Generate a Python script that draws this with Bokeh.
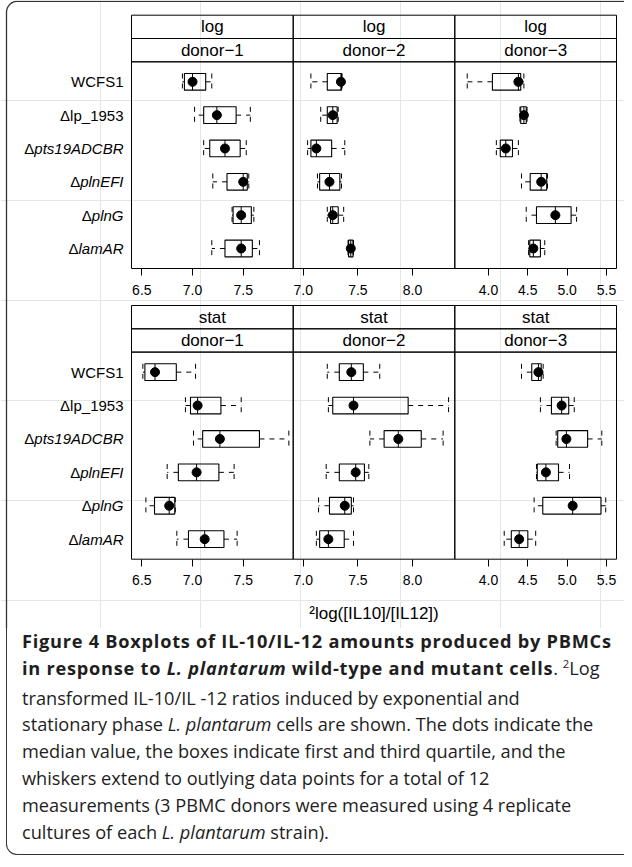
import numpy as np
from bokeh.plotting import figure
from bokeh.models import Range1d, LinearAxis, FixedTicker, PrintfTickFormatter, Div
from bokeh.layouts import column
from bokeh.embed import file_html
from bokeh.resources import INLINE
from bokeh.core.properties import value

# ---------------- data ----------------
phases = ["log", "stat"]
donors = ["donor−1", "donor−2", "donor−3"]
strains = ["WCFS1", "Δlp_1953", "Δpts19ADCBR", "ΔplnEFI", "ΔplnG", "ΔlamAR"]
strain_italic = [False, False, True, True, True, True]

# each row: (lower whisker, Q1, median, Q3, upper whisker), strains in order above
log_donor1 = [(6.90, 6.92, 7.00, 7.13, 7.19), (7.02, 7.11, 7.24, 7.43, 7.57),
              (7.11, 7.17, 7.32, 7.47, 7.53), (7.20, 7.34, 7.50, 7.54, 7.555),
              (7.39, 7.40, 7.48, 7.58, 7.605), (7.19, 7.32, 7.48, 7.59, 7.66)]
log_donor2 = [(7.07, 7.22, 7.345, 7.35, 7.355), (7.16, 7.22, 7.27, 7.31, 7.32),
              (7.04, 7.07, 7.12, 7.26, 7.38), (7.13, 7.15, 7.24, 7.335, 7.35),
              (7.22, 7.25, 7.27, 7.32, 7.37), (7.41, 7.415, 7.435, 7.455, 7.46)]
log_donor3 = [(3.73, 4.05, 4.38, 4.41, 4.45), (4.40, 4.41, 4.45, 4.48, 4.49),
              (4.10, 4.15, 4.22, 4.305, 4.38), (4.42, 4.53, 4.67, 4.74, 4.75),
              (4.48, 4.61, 4.85, 5.05, 5.12), (4.51, 4.525, 4.57, 4.66, 4.715)]
stat_donor1 = [(6.51, 6.53, 6.63, 6.84, 7.03), (6.93, 6.98, 7.05, 7.28, 7.48),
               (7.01, 7.10, 7.27, 7.66, 7.95), (6.75, 6.86, 7.04, 7.26, 7.41),
               (6.54, 6.625, 6.77, 6.825, 6.83), (6.845, 6.96, 7.12, 7.31, 7.44)]
stat_donor2 = [(7.22, 7.33, 7.44, 7.55, 7.70), (7.23, 7.27, 7.46, 7.96, 8.33),
               (7.61, 7.74, 7.87, 8.08, 8.28), (7.21, 7.33, 7.48, 7.56, 7.60),
               (7.14, 7.24, 7.38, 7.44, 7.46), (7.12, 7.15, 7.23, 7.375, 7.46)]
stat_donor3 = [(4.42, 4.55, 4.635, 4.67, 4.695), (4.66, 4.80, 4.93, 5.02, 5.09),
               (4.86, 4.88, 4.99, 5.26, 5.44), (4.61, 4.62, 4.73, 4.89, 5.03),
               (4.58, 4.69, 5.07, 5.43, 5.49), (4.20, 4.29, 4.39, 4.50, 4.60)]

panels = [[log_donor1, log_donor2, log_donor3],
          [stat_donor1, stat_donor2, stat_donor3]]

col_ticks = [[6.5, 7.0, 7.5], [7.0, 7.5, 8.0], [4.0, 4.5, 5.0, 5.5]]
col_limits = [(6.398, 7.993), (6.908, 8.387), (3.572, 5.627)]
x_label = "²log([IL10]/[IL12])"

# ---------------- layout (pixels) ----------------
W, H = 624, 628
OFF = 8
col_px = [(139 - OFF, 300.7 - OFF), (300.7 - OFF, 462.3 - OFF), (462.3 - OFF, 624 - OFF)]
row_px = [(69.3 - OFF, 276 - OFF), (359.6 - OFF, 566.7 - OFF)]
STRIP_H = 23.3
Y_LIM = (0.4, 6.6)
FONT = "Liberation Sans"

p = figure(width=W, height=H, x_range=Range1d(0, W), y_range=Range1d(H, 0),
           min_border=0, toolbar_location=None, output_backend="svg",
           x_axis_location=None, y_axis_location=None, outline_line_color=None,
           background_fill_color="white", border_fill_color="white")

for c, (lo, hi) in enumerate(col_limits):
    a, b = col_px[c]
    k = (hi - lo) / (b - a)
    p.extra_x_ranges[f"x{c}"] = Range1d(start=lo - a * k, end=lo + (W - a) * k)
for r, (top, bot) in enumerate(row_px):
    k = (Y_LIM[1] - Y_LIM[0]) / (bot - top)
    p.extra_y_ranges[f"y{r}"] = Range1d(start=Y_LIM[0] + (H - top) * k,
                                        end=Y_LIM[0] - top * k)

# outer frame (top-left part, rest is the caption box border)
R = 11
fx, fy = 6.0, 0.8
ang = np.linspace(np.pi, 1.5 * np.pi, 20)
arc_x = fx + R + R * np.cos(ang)
arc_y = fy + R + R * np.sin(ang)
frame_x = np.concatenate([[fx], arc_x, [W + 5]])
frame_y = np.concatenate([[H + 5], arc_y, [fy]])
p.line(frame_x, frame_y, line_color="#333333", line_width=1.3)

yi = np.arange(1, len(strains) + 1)
half = 0.25
dash = "5 5"

HELV = {"p": 556, "t": 278, "s": 500, "1": 556, "9": 556, "A": 667, "D": 722,
        "C": 722, "B": 667, "R": 722, "l": 222, "n": 556, "E": 667, "F": 611,
        "I": 278, "G": 778, "a": 556, "m": 833}
LFS = 15

for r, phase in enumerate(phases):
    top, bot = row_px[r]
    yr = f"y{r}"
    for c, donor in enumerate(donors):
        left, right = col_px[c]
        xr = f"x{c}"
        # panel + strips
        p.quad(left=[left], right=[right], top=[top], bottom=[bot],
               fill_color=None, line_color="black", line_width=1)
        p.quad(left=[left, left], right=[right, right],
               top=[top - 2 * STRIP_H, top - STRIP_H], bottom=[top - STRIP_H, top],
               fill_color=None, line_color="black", line_width=1)
        p.text(x=[(left + right) / 2] * 2,
               y=[top - 1.5 * STRIP_H, top - 0.5 * STRIP_H],
               text=[phase, donor], text_align="center", text_baseline="middle",
               text_font=value(FONT), text_font_size="17px", text_color="black")

        data = panels[r][c]
        lo = [d[0] for d in data]
        q1 = [d[1] for d in data]
        med = [d[2] for d in data]
        q3 = [d[3] for d in data]
        hi = [d[4] for d in data]
        kw = dict(x_range_name=xr, y_range_name=yr)
        p.segment(x0=q1, y0=yi, x1=lo, y1=yi, line_color="black", line_width=1,
                  line_dash=dash, **kw)
        p.segment(x0=q3, y0=yi, x1=hi, y1=yi, line_color="black", line_width=1,
                  line_dash=dash, **kw)
        p.segment(x0=lo, y0=yi - half, x1=lo, y1=yi + half, line_color="black",
                  line_width=1, line_dash=dash, **kw)
        p.segment(x0=hi, y0=yi - half, x1=hi, y1=yi + half, line_color="black",
                  line_width=1, line_dash=dash, **kw)
        p.quad(left=q1, right=q3, top=yi - half, bottom=yi + half,
               fill_color=None, line_color="black", line_width=1.1, **kw)
        p.segment(x0=med, y0=yi - half, x1=med, y1=yi + half, line_color="black",
                  line_width=1, **kw)
        p.scatter(x=med, y=yi, size=9, marker="circle", color="black", **kw)

        ax = LinearAxis(x_range_name=xr, fixed_location=bot, bounds=col_limits[c],
                        ticker=FixedTicker(ticks=col_ticks[c]),
                        formatter=PrintfTickFormatter(format="%.1f"))
        ax.axis_line_color = None
        ax.major_tick_out = 7
        ax.major_tick_in = 0
        ax.major_tick_line_color = "black"
        ax.minor_tick_line_color = None
        ax.major_label_text_font = FONT
        ax.major_label_text_font_size = "14px"
        ax.major_label_text_color = "black"
        ax.major_label_standoff = 9
        p.add_layout(ax, "below")

    # strain labels on the left (Δ upright, gene names italic)
    lab_x = 131 - OFF
    for i, (name, ital) in enumerate(zip(strains, strain_italic)):
        if ital:
            rest = name[1:]
            wpx = sum(HELV.get(ch, 556) for ch in rest) * LFS / 1000.0
            p.text(x=[lab_x], y=[yi[i]], text=[rest], text_align="right",
                   text_baseline="middle", text_font=value(FONT),
                   text_font_size=f"{LFS}px", text_font_style="italic",
                   text_color="black", y_range_name=yr)
            p.text(x=[lab_x - wpx], y=[yi[i]], text=[name[0]], text_align="right",
                   text_baseline="middle", text_font=value(FONT),
                   text_font_size=f"{LFS}px", text_color="black", y_range_name=yr)
        else:
            p.text(x=[lab_x], y=[yi[i]], text=[name], text_align="right",
                   text_baseline="middle", text_font=value(FONT),
                   text_font_size=f"{LFS}px", text_color="black", y_range_name=yr)

p.text(x=[(col_px[0][0] + col_px[2][1]) / 2], y=[621 - OFF], text=[x_label],
       text_align="center", text_baseline="middle", text_font=value(FONT),
       text_font_size="17px", text_color="black")

caption = (
    '<div style="font-family:\'Open Sans\';font-size:18.2px;line-height:26.8px;'
    'white-space:nowrap;color:#1e1e1e;">'
    '<b style="letter-spacing:0.75px;">Figure 4 Boxplots of IL-10/IL-12 amounts produced by PBMCs<br>'
    'in response to <i>L. plantarum</i> wild-type and mutant cells</b>. '
    '<span style="font-size:0.62em;position:relative;top:-0.6em;">2</span>Log<br>'
    'transformed IL-10/IL -12 ratios induced by exponential and<br>'
    'stationary phase <i>L. plantarum</i> cells are shown. The dots indicate the<br>'
    'median value, the boxes indicate first and third quartile, and the<br>'
    'whiskers extend to outlying data points for a total of 12<br>'
    'measurements (3 PBMC donors were measured using 4 replicate<br>'
    'cultures of each <i>L. plantarum</i> strain).</div>'
)
div = Div(text=caption, width=618, height=227, margin=(0, 0, 0, 6),
          styles={"border-left": "1.3px solid #333333",
                  "border-bottom": "1.3px solid #333333",
                  "border-bottom-left-radius": "11px",
                  "box-sizing": "border-box",
                  "padding-left": "15px", "padding-top": "0px"})

layout = column(p, div, spacing=0)
open("out.html", "w").write(file_html(layout, INLINE))
